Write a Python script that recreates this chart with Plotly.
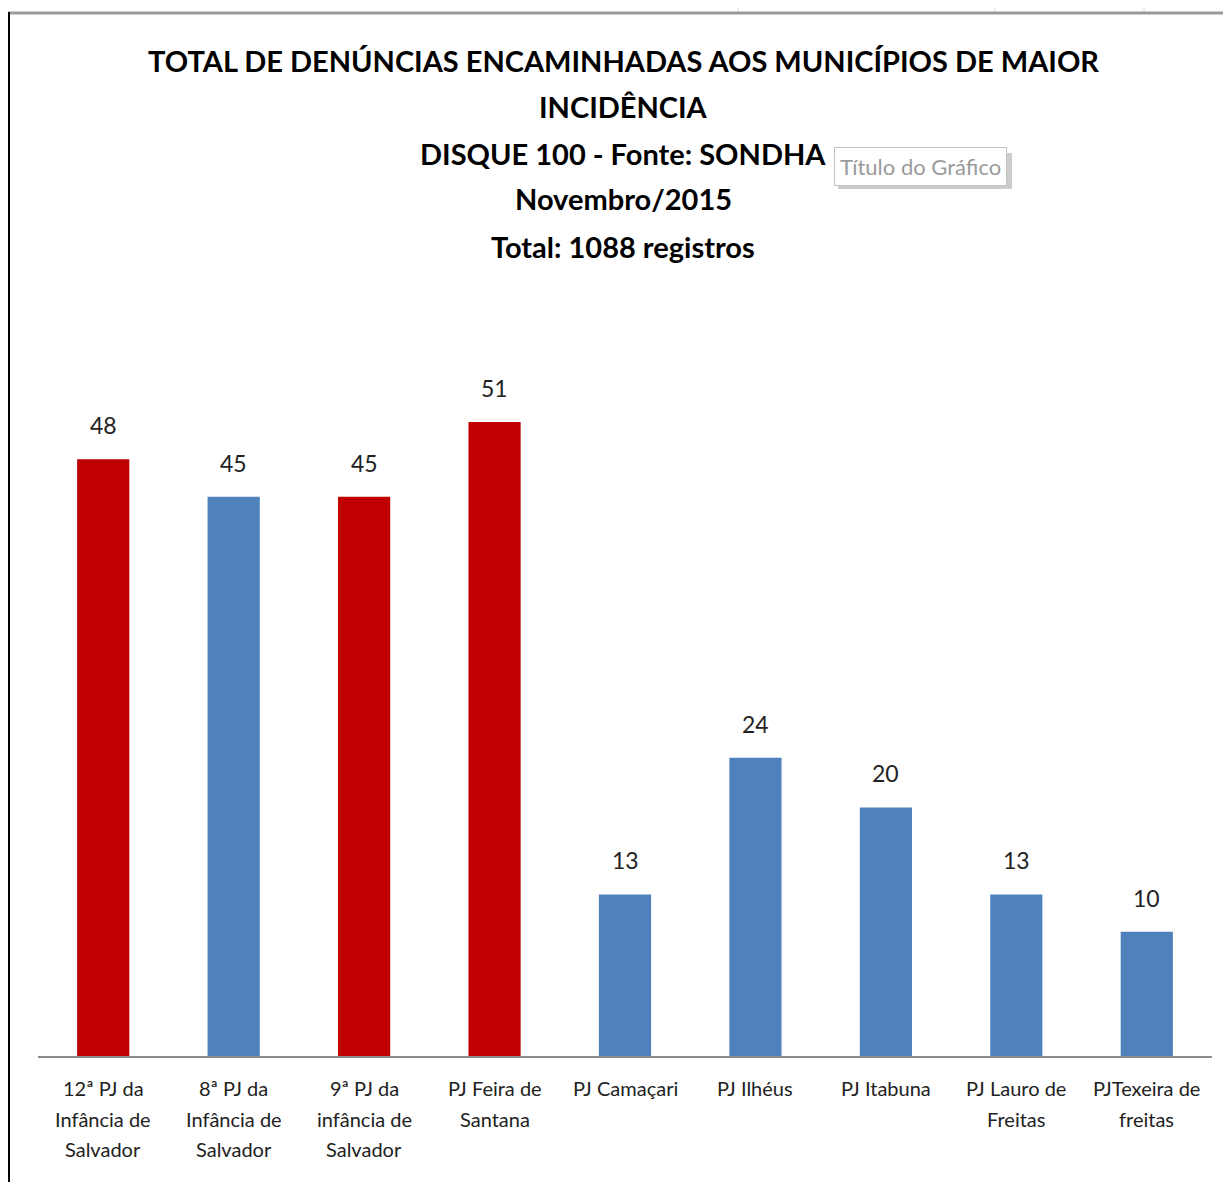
import plotly.graph_objects as go

categories = [
    "12ª PJ da<br>Infância de<br>Salvador",
    "8ª PJ da<br>Infância de<br>Salvador",
    "9ª PJ da<br>infância de<br>Salvador",
    "PJ Feira de<br>Santana",
    "PJ Camaçari",
    "PJ Ilhéus",
    "PJ Itabuna",
    "PJ Lauro de<br>Freitas",
    "PJTexeira de<br>freitas",
]
values = [48, 45, 45, 51, 13, 24, 20, 13, 10]
highlight = [True, False, True, True, False, False, False, False, False]

title_lines = [
    "TOTAL DE DENÚNCIAS ENCAMINHADAS AOS MUNICÍPIOS DE MAIOR",
    "INCIDÊNCIA",
    "DISQUE 100 - Fonte: SONDHA",
    "Novembro/2015",
    "Total: 1088 registros",
]

RED = "#C00000"
BLUE = "#4F81BD"
colors = [RED if h else BLUE for h in highlight]

OFF = 8  # page body margin
W, H = 1231 - OFF, 1182 - OFF
# plot area in screen pixels
SX0, SX1, SY0, SY1 = 38, 1212, 300, 1056
ML, MR, MT, MB = SX0 - OFF, (W + OFF) - SX1, SY0 - OFF, (H + OFF) - SY1
plot_h = SY1 - SY0
plot_w = SX1 - SX0
px_per_unit = 12.43
ymax = plot_h / px_per_unit

def py(Y):
    return (SY1 - Y) / plot_h

def px(X):
    return (X - SX0) / plot_w

FONT = "Lato, Carlito, sans-serif"

fig = go.Figure()
fig.add_trace(go.Bar(
    x=list(range(len(categories))),
    y=values,
    marker=dict(color=colors, line=dict(width=0)),
    width=0.4,
    hoverinfo="skip",
))

annotations = []
# value labels
for i, v in enumerate(values):
    annotations.append(dict(
        text=str(v), x=i, y=v, xref="x", yref="y",
        xanchor="center", yanchor="middle", yshift=34, showarrow=False,
        font=dict(family=FONT, size=23, color="#222222"),
    ))
# category labels (one annotation per line)
line_y = [1088, 1119, 1149]
for i, cat in enumerate(categories):
    for j, part in enumerate(cat.split("<br>")):
        annotations.append(dict(
            text=part, x=i, y=py(line_y[j]), xref="x", yref="paper",
            xanchor="center", yanchor="middle", showarrow=False,
            font=dict(family=FONT, size=20, color="#222222"),
        ))
# title
title_y = [60, 107, 153, 198, 246]
for line, Y in zip(title_lines, title_y):
    annotations.append(dict(
        text=f"<b>{line}</b>", x=px(623), y=py(Y), xref="paper", yref="paper",
        xanchor="center", yanchor="middle", showarrow=False,
        font=dict(family=FONT, size=29, color="#000000"),
    ))

annotations.append(dict(
    text="Título do Gráfico", x=px(920), y=py(166), xref="paper", yref="paper",
    xanchor="center", yanchor="middle", showarrow=False,
    font=dict(family=FONT, size=22, color="#9a9a9a"),
    bgcolor="#ffffff", bordercolor="#c4c4c4", borderwidth=1, borderpad=5,
))

shapes = [
    # shadow of the tooltip box
    dict(type="rect", xref="paper", yref="paper",
         x0=px(838), x1=px(1012), y0=py(189), y1=py(153),
         fillcolor="#cccccc", line=dict(width=0), layer="below"),
    # top gray line
    dict(type="line", xref="paper", yref="paper",
         x0=px(8), x1=px(1231), y0=py(13), y1=py(13),
         line=dict(color="#9a9a9a", width=3)),
    # left black border
    dict(type="line", xref="paper", yref="paper",
         x0=px(9), x1=px(9), y0=py(12), y1=py(1182),
         line=dict(color="#000000", width=2)),
]
for X in [738, 995, 1144]:
    shapes.append(dict(type="line", xref="paper", yref="paper",
                       x0=px(X), x1=px(X), y0=py(0), y1=py(11),
                       line=dict(color="#d8d8d8", width=1)))

fig.update_layout(
    width=W, height=H,
    margin=dict(l=ML, r=MR, t=MT, b=MB),
    paper_bgcolor="#ffffff", plot_bgcolor="#ffffff",
    showlegend=False,
    annotations=annotations,
    shapes=shapes,
    xaxis=dict(
        tickmode="array", tickvals=list(range(len(categories))),
        showticklabels=False,
        range=[-0.5, len(categories) - 0.5],
        showline=True, linecolor="#8c8c8c", linewidth=2,
        showgrid=False, zeroline=False, ticks="",
        fixedrange=True,
    ),
    yaxis=dict(
        range=[0, ymax], visible=False, showgrid=False, zeroline=False,
        fixedrange=True,
    ),
)

fig.write_html("out.html")
